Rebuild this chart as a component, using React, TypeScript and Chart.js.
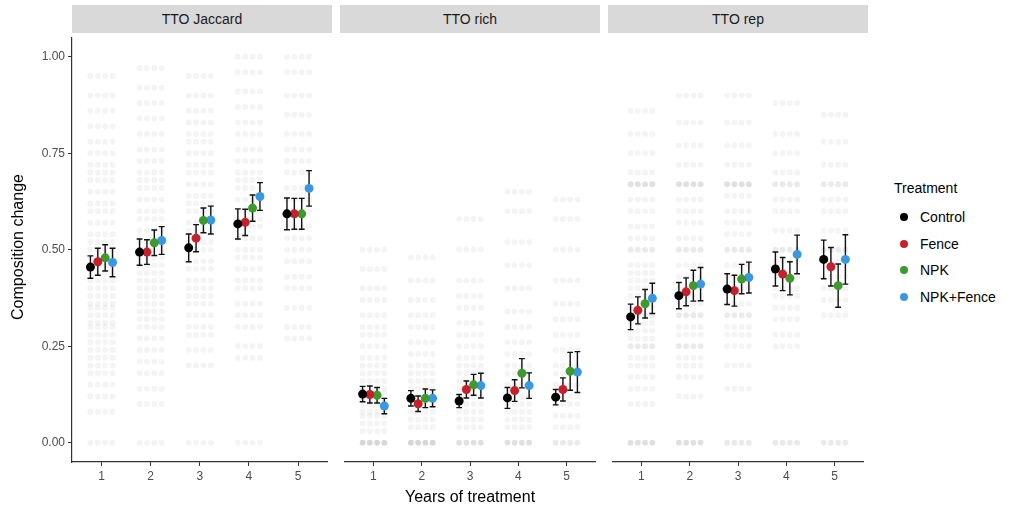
import React, { useEffect, useRef } from 'react';
import { Chart, registerables } from 'chart.js';
Chart.register(...registerables);

const years = [1, 2, 3, 4, 5];
const yTicks = [0, 0.25, 0.5, 0.75, 1];
const treatments = ['Control', 'Fence', 'NPK', 'NPK+Fence'];
const colors = ['#000000', '#c8202a', '#3d9a2d', '#3a98e0'];
const panelTitles = ['TTO Jaccard', 'TTO rich', 'TTO rep'];

// ---- Means (by year 1..5) and standard errors ----
const jacControl = [0.455, 0.494, 0.505, 0.567, 0.593];
const jacFence = [0.469, 0.494, 0.530, 0.571, 0.593];
const jacNPK = [0.479, 0.518, 0.576, 0.608, 0.593];
const jacNPKFence = [0.467, 0.524, 0.577, 0.638, 0.659];
const jacControlSE = [0.029, 0.034, 0.036, 0.039, 0.041];
const jacFenceSE = [0.035, 0.032, 0.035, 0.034, 0.040];
const jacNPKSE = [0.034, 0.033, 0.032, 0.034, 0.040];
const jacNPKFenceSE = [0.037, 0.036, 0.036, 0.036, 0.046];

const richControl = [0.126, 0.115, 0.108, 0.116, 0.118];
const richFence = [0.125, 0.101, 0.138, 0.135, 0.138];
const richNPK = [0.123, 0.115, 0.150, 0.180, 0.185];
const richNPKFence = [0.095, 0.115, 0.148, 0.148, 0.183];
const richControlSE = [0.020, 0.020, 0.017, 0.027, 0.020];
const richFenceSE = [0.022, 0.020, 0.022, 0.028, 0.030];
const richNPKSE = [0.020, 0.024, 0.027, 0.038, 0.049];
const richNPKFenceSE = [0.020, 0.022, 0.032, 0.033, 0.053];

const repControl = [0.326, 0.381, 0.398, 0.450, 0.475];
const repFence = [0.343, 0.391, 0.394, 0.437, 0.456];
const repNPK = [0.360, 0.407, 0.424, 0.426, 0.407];
const repNPKFence = [0.374, 0.411, 0.428, 0.488, 0.475];
const repControlSE = [0.033, 0.034, 0.040, 0.044, 0.050];
const repFenceSE = [0.035, 0.036, 0.040, 0.043, 0.050];
const repNPKSE = [0.037, 0.040, 0.038, 0.043, 0.056];
const repNPKFenceSE = [0.039, 0.043, 0.040, 0.050, 0.064];

// ---- Raw plot values (faint background points), per year ----
const jacPts1 = [0.0, 0.08, 0.12, 0.15, 0.18, 0.2, 0.22, 0.24, 0.26, 0.28, 0.3, 0.31, 0.33, 0.35, 0.36, 0.38, 0.4, 0.42, 0.44, 0.46, 0.48, 0.5, 0.52, 0.54, 0.57, 0.6, 0.62, 0.65, 0.68, 0.7, 0.72, 0.75, 0.78, 0.82, 0.86, 0.9, 0.95];
const jacPts2 = [0.0, 0.1, 0.14, 0.18, 0.21, 0.24, 0.27, 0.3, 0.32, 0.34, 0.36, 0.38, 0.4, 0.42, 0.44, 0.46, 0.48, 0.5, 0.52, 0.55, 0.58, 0.6, 0.63, 0.66, 0.68, 0.7, 0.73, 0.76, 0.8, 0.84, 0.88, 0.92, 0.97];
const jacPts3 = [0.0, 0.2, 0.24, 0.28, 0.3, 0.33, 0.36, 0.38, 0.4, 0.42, 0.45, 0.47, 0.5, 0.52, 0.55, 0.57, 0.6, 0.62, 0.64, 0.67, 0.7, 0.72, 0.75, 0.78, 0.8, 0.83, 0.86, 0.9, 0.95];
const jacPts4 = [0.0, 0.22, 0.25, 0.3, 0.33, 0.36, 0.4, 0.42, 0.45, 0.48, 0.5, 0.53, 0.56, 0.58, 0.6, 0.63, 0.66, 0.68, 0.7, 0.73, 0.76, 0.8, 0.83, 0.87, 0.91, 0.96, 1.0];
const jacPts5 = [0.27, 0.3, 0.35, 0.4, 0.43, 0.47, 0.5, 0.53, 0.56, 0.6, 0.63, 0.66, 0.7, 0.73, 0.76, 0.8, 0.85, 0.9, 0.96, 1.0];

const richPts1 = [0, 0, 0, 0, 0.03, 0.05, 0.07, 0.08, 0.1, 0.11, 0.13, 0.14, 0.16, 0.18, 0.2, 0.22, 0.25, 0.28, 0.3, 0.33, 0.37, 0.4, 0.45, 0.5];
const richPts2 = [0, 0, 0, 0, 0.04, 0.06, 0.08, 0.1, 0.12, 0.14, 0.16, 0.18, 0.2, 0.23, 0.26, 0.3, 0.33, 0.37, 0.42, 0.48];
const richPts3 = [0, 0, 0, 0.04, 0.06, 0.08, 0.1, 0.12, 0.14, 0.16, 0.18, 0.2, 0.22, 0.25, 0.28, 0.31, 0.35, 0.38, 0.42, 0.5, 0.58];
const richPts4 = [0, 0, 0, 0.04, 0.06, 0.08, 0.1, 0.12, 0.15, 0.18, 0.2, 0.23, 0.26, 0.3, 0.34, 0.4, 0.46, 0.52, 0.6, 0.65];
const richPts5 = [0, 0, 0.04, 0.07, 0.1, 0.12, 0.15, 0.18, 0.2, 0.24, 0.28, 0.32, 0.36, 0.42, 0.5, 0.58, 0.63];

const repPts1 = [0, 0, 0, 0.1, 0.14, 0.17, 0.2, 0.22, 0.25, 0.25, 0.27, 0.29, 0.31, 0.33, 0.33, 0.35, 0.38, 0.4, 0.42, 0.44, 0.46, 0.5, 0.5, 0.53, 0.56, 0.6, 0.63, 0.67, 0.67, 0.67, 0.7, 0.75, 0.8, 0.86];
const repPts2 = [0, 0, 0, 0.12, 0.17, 0.2, 0.22, 0.25, 0.25, 0.28, 0.3, 0.33, 0.33, 0.36, 0.38, 0.4, 0.43, 0.46, 0.5, 0.5, 0.53, 0.57, 0.6, 0.63, 0.67, 0.67, 0.67, 0.72, 0.77, 0.83, 0.9];
const repPts3 = [0, 0, 0.14, 0.2, 0.25, 0.28, 0.3, 0.33, 0.33, 0.36, 0.4, 0.43, 0.46, 0.5, 0.5, 0.54, 0.57, 0.6, 0.64, 0.67, 0.67, 0.67, 0.72, 0.77, 0.83, 0.9];
const repPts4 = [0, 0, 0.25, 0.28, 0.32, 0.35, 0.38, 0.4, 0.43, 0.47, 0.5, 0.5, 0.55, 0.6, 0.63, 0.67, 0.67, 0.7, 0.75, 0.8, 0.88];
const repPts5 = [0, 0, 0.33, 0.37, 0.4, 0.43, 0.47, 0.5, 0.5, 0.55, 0.6, 0.63, 0.67, 0.67, 0.72, 0.78, 0.85];

const FONT = '"Liberation Sans", Arial, Helvetica, sans-serif';
const DODGE = 0.15;
const PLOT_TOP = 33;
const PLOT_H = 429;
const XAXIS_H = 40;
const Y_AXIS_W = 72;

const errorBars = {
  id: 'errorBars',
  beforeDatasetsDraw(chart: any) {
    chart.$errDone = false;
  },
  beforeDatasetDraw(chart: any, args: any) {
    const ds: any = chart.data.datasets[args.index];
    if (!ds.isMean || chart.$errDone) return;
    chart.$errDone = true;
    const ctx = chart.ctx;
    const xs = chart.scales.x;
    const ys = chart.scales.y;
    ctx.save();
    ctx.strokeStyle = '#111111';
    ctx.lineWidth = 1.4;
    chart.data.datasets.forEach((d: any) => {
      if (!d.isMean) return;
      d.data.forEach((p: any, i: number) => {
        const px = xs.getPixelForValue(p.x);
        const y1 = ys.getPixelForValue(p.y - d.se[i]);
        const y2 = ys.getPixelForValue(p.y + d.se[i]);
        const half = xs.getPixelForValue(p.x + 0.06) - px;
        ctx.beginPath();
        ctx.moveTo(px, y1);
        ctx.lineTo(px, y2);
        ctx.moveTo(px - half, y1);
        ctx.lineTo(px + half, y1);
        ctx.moveTo(px - half, y2);
        ctx.lineTo(px + half, y2);
        ctx.stroke();
      });
    });
    ctx.restore();
  },
};

type PanelProps = {
  left: number;
  width: number;
  showY: boolean;
  means: number[][];
  ses: number[][];
  pts: number[][];
};

function Panel({ left, width, showY, means, ses, pts }: PanelProps) {
  const ref = useRef<HTMLCanvasElement>(null);
  useEffect(() => {
    if (!ref.current) return;
    const datasets: any[] = [];
    treatments.forEach((t, ti) => {
      datasets.push({
        label: t,
        isMean: true,
        se: ses[ti],
        data: years.map((yr, i) => ({ x: yr + (ti - 1.5) * DODGE, y: means[ti][i] })),
        pointRadius: 4.5,
        pointHoverRadius: 4.5,
        backgroundColor: colors[ti],
        borderColor: colors[ti],
        borderWidth: 0,
        order: 0,
      });
    });
    treatments.forEach((t, ti) => {
      const data: any[] = [];
      years.forEach((yr, i) => {
        pts[i].forEach((v) => data.push({ x: yr + (ti - 1.5) * DODGE, y: v }));
      });
      datasets.push({
        label: t + ' raw',
        data,
        pointRadius: 3,
        pointHoverRadius: 3,
        backgroundColor: 'rgba(0,0,0,0.045)',
        borderColor: 'rgba(0,0,0,0)',
        borderWidth: 0,
        order: 5,
      });
    });
    const chart = new Chart(ref.current, {
      type: 'scatter',
      data: { datasets },
      plugins: [errorBars],
      options: {
        animation: false,
        responsive: false,
        maintainAspectRatio: false,
        events: [],
        layout: { padding: 0 },
        plugins: { legend: { display: false }, tooltip: { enabled: false } },
        scales: {
          x: {
            type: 'linear',
            min: 0.4,
            max: 5.6,
            afterBuildTicks: (s: any) => {
              s.ticks = years.map((v) => ({ value: v }));
            },
            ticks: {
              color: '#4d4d4d',
              font: { size: 12, family: FONT },
              padding: 3,
              maxRotation: 0,
              autoSkip: false,
              callback: (v: any) => String(v),
            },
            grid: { drawOnChartArea: false, drawTicks: true, tickLength: 4, color: '#333333', lineWidth: 1 },
            border: { display: true, color: '#333333', width: 1.2 },
            afterFit: (s: any) => {
              s.height = XAXIS_H;
              s.paddingLeft = 0;
              s.paddingRight = 0;
            },
          },
          y: {
            type: 'linear',
            display: showY,
            min: -0.05,
            max: 1.05,
            afterBuildTicks: (s: any) => {
              s.ticks = yTicks.map((v) => ({ value: v }));
            },
            ticks: {
              color: '#4d4d4d',
              font: { size: 12, family: FONT },
              padding: 3,
              callback: (v: any) => Number(v).toFixed(2),
            },
            grid: { drawOnChartArea: false, drawTicks: true, tickLength: 4, color: '#333333', lineWidth: 1 },
            border: { display: true, color: '#333333', width: 1.2 },
            afterFit: (s: any) => {
              s.width = showY ? Y_AXIS_W : 0;
              s.paddingTop = 0;
              s.paddingBottom = 0;
            },
          },
        },
      } as any,
    });
    return () => chart.destroy();
  }, []);
  return (
    <canvas
      ref={ref}
      width={width}
      height={PLOT_H + XAXIS_H}
      style={{ position: 'absolute', left, top: PLOT_TOP, width, height: PLOT_H + XAXIS_H }}
    />
  );
}

const panelLefts = [72, 340, 608];
const panelWidth = 260;

export default function App() {
  const allMeans = [
    [jacControl, jacFence, jacNPK, jacNPKFence],
    [richControl, richFence, richNPK, richNPKFence],
    [repControl, repFence, repNPK, repNPKFence],
  ];
  const allSEs = [
    [jacControlSE, jacFenceSE, jacNPKSE, jacNPKFenceSE],
    [richControlSE, richFenceSE, richNPKSE, richNPKFenceSE],
    [repControlSE, repFenceSE, repNPKSE, repNPKFenceSE],
  ];
  const allPts = [
    [jacPts1, jacPts2, jacPts3, jacPts4, jacPts5],
    [richPts1, richPts2, richPts3, richPts4, richPts5],
    [repPts1, repPts2, repPts3, repPts4, repPts5],
  ];
  return (
    <div
      style={{
        position: 'absolute',
        left: 0,
        top: 0,
        width: 1016,
        height: 513,
        background: '#ffffff',
        overflow: 'hidden',
        fontFamily: FONT,
      }}
    >
      {panelTitles.map((t, i) => (
        <div
          key={t}
          style={{
            position: 'absolute',
            left: panelLefts[i],
            top: 5,
            width: panelWidth,
            height: 28,
            background: '#d9d9d9',
            color: '#1a1a1a',
            fontSize: 14,
            lineHeight: '28px',
            textAlign: 'center',
          }}
        >
          {t}
        </div>
      ))}
      {panelTitles.map((t, i) => (
        <Panel
          key={t + 'c'}
          left={i === 0 ? 0 : panelLefts[i]}
          width={i === 0 ? panelLefts[0] + panelWidth : panelWidth}
          showY={i === 0}
          means={allMeans[i]}
          ses={allSEs[i]}
          pts={allPts[i]}
        />
      ))}
      <div
        style={{
          position: 'absolute',
          left: 18 - 150,
          top: 247 - 10,
          width: 300,
          height: 20,
          lineHeight: '20px',
          textAlign: 'center',
          fontSize: 16,
          color: '#000',
          transform: 'rotate(-90deg)',
        }}
      >
        Composition change
      </div>
      <div
        style={{
          position: 'absolute',
          left: 470 - 150,
          top: 497 - 10,
          width: 300,
          height: 20,
          lineHeight: '20px',
          textAlign: 'center',
          fontSize: 16,
          color: '#000',
        }}
      >
        Years of treatment
      </div>
      <div style={{ position: 'absolute', left: 894, top: 179, fontSize: 14, lineHeight: '18px', color: '#000' }}>
        Treatment
      </div>
      {treatments.map((t, i) => (
        <div
          key={t + 'lg'}
          style={{ position: 'absolute', left: 898, top: 208 + i * 26.5, height: 18, display: 'flex', alignItems: 'center' }}
        >
          <span
            style={{
              display: 'inline-block',
              width: 8,
              height: 8,
              borderRadius: 4,
              background: colors[i],
              marginLeft: 2,
              marginRight: 12,
            }}
          />
          <span style={{ fontSize: 14, color: '#000' }}>{t}</span>
        </div>
      ))}
    </div>
  );
}
